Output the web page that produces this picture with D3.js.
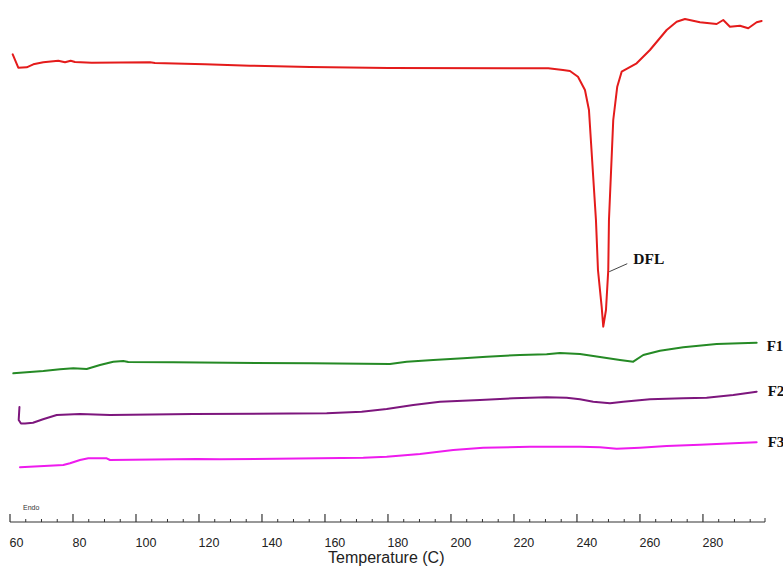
<!DOCTYPE html>
<html>
<head>
<meta charset="utf-8">
<script src="https://cdn.jsdelivr.net/npm/d3@7/dist/d3.min.js"></script>
<style>
  html, body { margin: 0; padding: 0; background: #fff; }
  svg { display: block; }
</style>
</head>
<body>
<svg id="chart" width="783" height="567"></svg>
<script>
// DSC thermograms: pure drug (DFL) and formulations F1–F3.
// Each series is [temperature (°C), heat flow (arbitrary units, offset per trace)].
const dflCurve = [
  [60.86, 47.57], [62.63, 46.23], [65.30, 46.27], [67.40, 46.57], [70.57, 46.77],
  [75.33, 46.93], [77.46, 46.77], [79.27, 46.93], [80.63, 46.80], [85.94, 46.73],
  [104.44, 46.77], [106.03, 46.70], [121.90, 46.57], [136.19, 46.43], [155.24, 46.30],
  [180.10, 46.20], [230.89, 46.17], [235.56, 46.00], [237.78, 45.90], [240.32, 45.33],
  [242.54, 44.00], [243.81, 42.00], [246.03, 31.00], [246.67, 26.00], [247.84, 22.33],
  [248.35, 20.33], [249.21, 22.00], [249.94, 26.00], [250.16, 31.00], [251.52, 41.00],
  [252.79, 44.33], [254.19, 45.83], [258.95, 46.67], [263.17, 48.00], [268.48, 50.00],
  [271.65, 50.83], [274.29, 51.10], [279.05, 50.77], [284.35, 50.60], [286.44, 51.00],
  [288.57, 50.33], [291.75, 50.43], [294.38, 50.17], [297.05, 50.77], [298.63, 50.90]
];
const f1Curve = [
  [61.05, 15.67], [70.57, 15.90], [75.87, 16.07], [80.10, 16.17], [84.35, 16.10],
  [88.57, 16.50], [92.79, 16.83], [95.97, 16.90], [97.56, 16.80], [111.84, 16.77],
  [120.32, 16.75], [155.78, 16.67], [180.63, 16.60], [185.94, 16.83], [194.38, 17.00],
  [203.90, 17.17], [211.33, 17.33], [221.90, 17.50], [230.38, 17.57], [234.60, 17.70],
  [240.95, 17.60], [247.30, 17.30], [253.65, 17.00], [257.87, 16.83], [261.05, 17.50],
  [266.35, 17.93], [273.75, 18.27], [284.35, 18.60], [291.75, 18.67], [297.05, 18.73]
];
const f2Curve = [
  [63.00, 12.30], [62.76, 11.00], [63.49, 10.65], [64.76, 10.65], [67.30, 10.73],
  [70.48, 11.07], [74.83, 11.50], [82.22, 11.60], [91.75, 11.50], [118.19, 11.60],
  [160.54, 11.67], [171.65, 11.83], [179.59, 12.10], [188.03, 12.50], [196.51, 12.83],
  [209.21, 13.00], [219.78, 13.17], [230.38, 13.27], [236.73, 13.23], [240.95, 13.07],
  [245.17, 12.83], [250.48, 12.67], [254.70, 12.83], [263.17, 13.07], [273.75, 13.17],
  [281.17, 13.23], [289.62, 13.50], [297.05, 13.83]
];
const f3Curve = [
  [63.17, 6.27], [76.92, 6.50], [79.05, 6.67], [82.22, 7.00], [84.86, 7.17],
  [90.70, 7.17], [91.75, 7.00], [119.27, 7.10], [126.67, 7.07], [172.16, 7.23],
  [179.59, 7.33], [190.16, 7.60], [200.73, 8.00], [210.25, 8.23], [225.08, 8.33],
  [240.95, 8.33], [247.30, 8.27], [252.60, 8.13], [260.00, 8.23], [268.48, 8.40],
  [279.05, 8.53], [289.62, 8.67], [297.05, 8.77]
];

const seriesNames = ["DFL", "F1", "F2", "F3"];
const seriesColors = ["#e41b1b", "#258a25", "#7d167d", "#ee1bee"];
const majorTicks = [60, 80, 100, 120, 140, 160, 180, 200, 220, 240, 260, 280];
const tempDomain = [60, 299.7];
const axisTitle = "Temperature (C)";
const endoText = "Endo";

const svg = d3.select("#chart");
const x = d3.scaleLinear().domain(tempDomain).range([10, 765]);
const y = d3.scaleLinear().domain([0, 53]).range([530, 0]);

const line = d3.line()
  .x(d => x(d[0]))
  .y(d => y(d[1]))
  .curve(d3.curveLinear);

const curves = [dflCurve, f1Curve, f2Curve, f3Curve];
curves.forEach((c, i) => {
  svg.append("path")
    .datum(c)
    .attr("d", line)
    .attr("fill", "none")
    .attr("stroke", seriesColors[i])
    .attr("stroke-width", 2)
    .attr("stroke-linejoin", "round")
    .attr("stroke-linecap", "round");
});

// Temperature axis along the bottom: major ticks every 20 °C, minor every 5 °C
const axisY = 522;
const axisG = svg.append("g").attr("transform", `translate(0,${axisY})`);
axisG.append("line")
  .attr("x1", x(tempDomain[0])).attr("x2", x(tempDomain[1]))
  .attr("y1", 0).attr("y2", 0)
  .attr("stroke", "#333").attr("stroke-width", 1.2);
const minor = d3.range(60, 300, 5).filter(t => t % 20 !== 0);
axisG.selectAll("line.minor").data(minor).enter().append("line")
  .attr("class", "minor")
  .attr("x1", d => x(d)).attr("x2", d => x(d))
  .attr("y1", 0).attr("y2", -3)
  .attr("stroke", "#333").attr("stroke-width", 1);
axisG.selectAll("line.major").data(majorTicks).enter().append("line")
  .attr("class", "major")
  .attr("x1", d => x(d)).attr("x2", d => x(d))
  .attr("y1", 0).attr("y2", -8)
  .attr("stroke", "#333").attr("stroke-width", 1.2);
axisG.append("line")
  .attr("x1", x(tempDomain[1])).attr("x2", x(tempDomain[1]))
  .attr("y1", 0).attr("y2", -4)
  .attr("stroke", "#333").attr("stroke-width", 1);
axisG.selectAll("text.tick").data(majorTicks).enter().append("text")
  .attr("class", "tick")
  .attr("x", d => x(d) - 0.5)
  .attr("y", 24.5)
  .attr("font-family", "Liberation Sans, Arial, sans-serif")
  .attr("font-size", 12.5)
  .attr("fill", "#222")
  .text(d => d);

svg.append("text")
  .attr("x", 328).attr("y", 563)
  .attr("font-family", "Liberation Sans, Arial, sans-serif")
  .attr("font-size", 16)
  .attr("fill", "#222")
  .text(axisTitle);

svg.append("text")
  .attr("x", 23).attr("y", 510)
  .attr("font-family", "Liberation Sans, Arial, sans-serif")
  .attr("font-size", 7)
  .attr("fill", "#333")
  .text(endoText);

// Series labels
const serif = "Liberation Serif, Times New Roman, serif";
const peak = dflCurve.reduce((a, b) => (b[1] < a[1] ? b : a));
svg.append("line")
  .attr("x1", x(peak[0]) + 6).attr("y1", y(peak[1]) - 55)
  .attr("x2", x(peak[0]) + 24).attr("y2", y(peak[1]) - 63)
  .attr("stroke", "#444").attr("stroke-width", 1);
svg.append("text")
  .attr("x", x(peak[0]) + 30).attr("y", y(peak[1]) - 63)
  .attr("font-family", serif).attr("font-weight", "bold")
  .attr("font-size", 15.5).attr("fill", "#111")
  .text(seriesNames[0]);

const labelOffsets = [[1, 8], [2, 4], [2, 5]];
[f1Curve, f2Curve, f3Curve].forEach((c, i) => {
  const last = c[c.length - 1];
  svg.append("text")
    .attr("x", x(last[0]) + 10 + (i > 0 ? 1 : 0))
    .attr("y", y(last[1]) + labelOffsets[i][1])
    .attr("font-family", serif).attr("font-weight", "bold")
    .attr("font-size", 15).attr("fill", "#111")
    .text(seriesNames[i + 1]);
});
</script>
</body>
</html>
